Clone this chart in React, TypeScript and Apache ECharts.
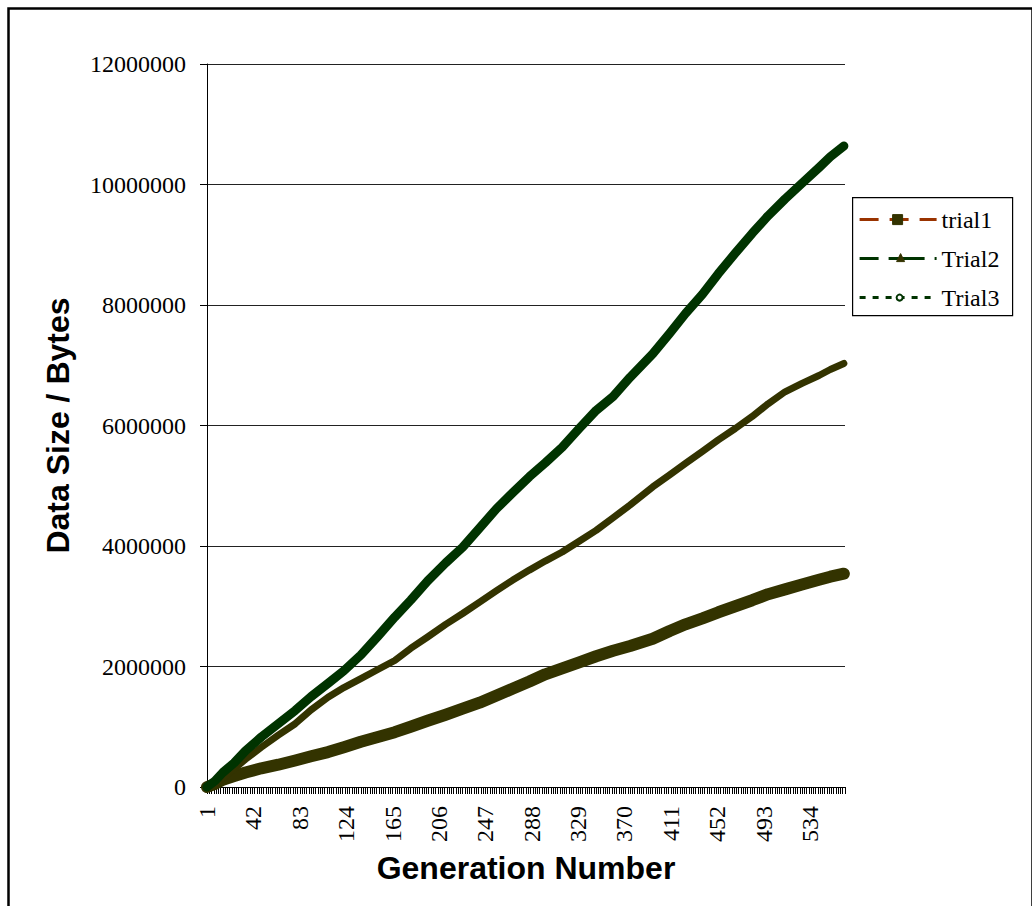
import React, { useEffect, useRef } from "react";
import * as echarts from "echarts";

// Generation numbers shown on the category axis
const generations: string[] = [];
for (let g = 1; g <= 565; g++) generations.push(String(g));

// Generations at which the data size was recorded
const sampleGenerations = [
  1, 8, 15, 25, 35, 49, 64, 79, 93, 108, 122, 137, 152, 167, 181, 196, 212, 227,
  242, 257, 271, 286, 300, 315, 330, 345, 360, 375, 395, 410, 424, 439, 453, 468,
  483, 497, 512, 527, 542, 552, 564,
];

// Data size in bytes for each trial
const trial1 = [
  0, 50000, 120000, 180000, 240000, 310000, 370000, 440000, 510000, 580000,
  660000, 750000, 830000, 910000, 1000000, 1100000, 1200000, 1300000, 1400000,
  1520000, 1630000, 1750000, 1870000, 1970000, 2070000, 2170000, 2260000,
  2340000, 2460000, 2590000, 2700000, 2800000, 2900000, 3000000, 3100000,
  3200000, 3280000, 3360000, 3440000, 3490000, 3540000,
];
const trial2 = [
  0, 60000, 150000, 300000, 460000, 660000, 860000, 1050000, 1280000, 1490000,
  1650000, 1800000, 1950000, 2100000, 2300000, 2490000, 2700000, 2880000,
  3070000, 3260000, 3430000, 3600000, 3750000, 3900000, 4080000, 4260000,
  4470000, 4680000, 4980000, 5180000, 5370000, 5570000, 5760000, 5950000,
  6150000, 6360000, 6560000, 6700000, 6830000, 6930000, 7030000,
];
const trial3 = [
  0, 100000, 240000, 400000, 600000, 830000, 1050000, 1270000, 1500000, 1720000,
  1930000, 2190000, 2500000, 2820000, 3100000, 3420000, 3720000, 3980000,
  4300000, 4620000, 4880000, 5150000, 5380000, 5640000, 5950000, 6250000,
  6480000, 6800000, 7190000, 7530000, 7860000, 8180000, 8520000, 8860000,
  9190000, 9480000, 9760000, 10020000, 10280000, 10460000, 10640000,
];

const seriesNames = ["trial1", "Trial2", "Trial3"];

const SERIF = "'Liberation Serif', 'Times New Roman', serif";
const SANS = "'Liberation Sans', Arial, sans-serif";

function pairs(values: number[]) {
  return sampleGenerations.map((g, i) => [String(g), values[i]]);
}

function legendGraphic() {
  const left = 852;
  const top = 197;
  const rows = [
    { y: 22, color: "#993300", dash: [19, 11], marker: "square" },
    { y: 61, color: "#003300", dash: [19, 10, 36, 10, 3, 10], marker: "triangle" },
    { y: 100, color: "#003300", dash: [6, 7], marker: "circle" },
  ];
  const children: any[] = [
    {
      type: "rect",
      shape: { x: 0, y: 0, width: 160, height: 118 },
      style: { fill: "#fff", stroke: "#000", lineWidth: 1.2 },
    },
  ];
  rows.forEach((r, i) => {
    children.push({
      type: "line",
      shape: { x1: 7, y1: r.y, x2: 84, y2: r.y },
      style: { stroke: r.color, lineWidth: 3, lineDash: r.dash },
    });
    if (r.marker === "square") {
      children.push({
        type: "rect",
        shape: { x: 40, y: r.y - 5, width: 10, height: 10 },
        style: { fill: "#333300", stroke: "#333300" },
      });
    } else if (r.marker === "triangle") {
      children.push({
        type: "polygon",
        shape: { points: [[48, r.y - 5], [52, r.y + 3], [44, r.y + 3]] },
        style: { fill: "#333300", stroke: "#333300" },
      });
    } else {
      children.push({
        type: "circle",
        shape: { cx: 47, cy: r.y, r: 3 },
        style: { fill: "#fff", stroke: "#003300", lineWidth: 2 },
      });
    }
    children.push({
      type: "text",
      x: 89,
      y: r.y,
      style: {
        text: seriesNames[i],
        font: `24px ${SERIF}`,
        fill: "#000",
        verticalAlign: "middle",
        align: "left",
      },
    });
  });
  return { type: "group", left, top, children };
}

export default function App() {
  const ref = useRef<HTMLDivElement>(null);

  useEffect(() => {
    document.body.style.margin = "0";
    if (!ref.current) return;
    const chart = echarts.init(ref.current, null, { renderer: "svg" });
    const lineSeries = (name: string, values: number[], color: string, width: number) => ({
      name,
      type: "line",
      data: pairs(values),
      showSymbol: false,
      symbol: "none",
      lineStyle: { color, width, join: "round", cap: "round" },
      itemStyle: { color },
      clip: false,
    });
    chart.setOption({
      animation: false,
      backgroundColor: "#fff",
      grid: { left: 207, right: 187, top: 64, bottom: 119, containLabel: false },
      xAxis: {
        type: "category",
        data: generations,
        boundaryGap: false,
        name: "Generation Number",
        nameLocation: "middle",
        nameGap: 65,
        nameTextStyle: { fontFamily: SANS, fontWeight: "bold", fontSize: 32, color: "#000" },
        axisLine: { lineStyle: { color: "#000", width: 1 } },
        axisTick: { show: true, interval: 1, length: 7, inside: false, lineStyle: { color: "#000", width: 1 } },
        axisLabel: {
          interval: 40,
          rotate: 90,
          margin: 19,
          fontFamily: SERIF,
          fontSize: 24,
          color: "#000",
        },
        splitLine: { show: false },
      },
      yAxis: {
        type: "value",
        min: 0,
        max: 12000000,
        interval: 2000000,
        name: "Data Size / Bytes",
        nameLocation: "middle",
        nameRotate: 90,
        nameGap: 133,
        nameTextStyle: { fontFamily: SANS, fontWeight: "bold", fontSize: 32, color: "#000" },
        axisLine: { show: true, lineStyle: { color: "#000", width: 1 } },
        axisTick: { show: true, length: 7, inside: false, lineStyle: { color: "#000" } },
        axisLabel: {
          margin: 21,
          fontFamily: SERIF,
          fontSize: 24,
          color: "#000",
          formatter: (v: number) => String(v),
        },
        splitLine: { show: true, lineStyle: { color: "#222", width: 1 } },
      },
      series: [
        lineSeries("trial1", trial1, "#333300", 12),
        lineSeries("Trial2", trial2, "#333300", 7),
        lineSeries("Trial3", trial3, "#003300", 9),
      ],
      graphic: [
        {
          type: "rect",
          left: 6,
          top: 6,
          shape: { x: 0, y: 0, width: 1024, height: 1000 },
          style: { fill: "none", stroke: "#000", lineWidth: 2.5 },
          silent: true,
        },
        legendGraphic(),
      ],
    });
    return () => chart.dispose();
  }, []);

  return <div ref={ref} style={{ width: 1032, height: 906 }} />;
}
